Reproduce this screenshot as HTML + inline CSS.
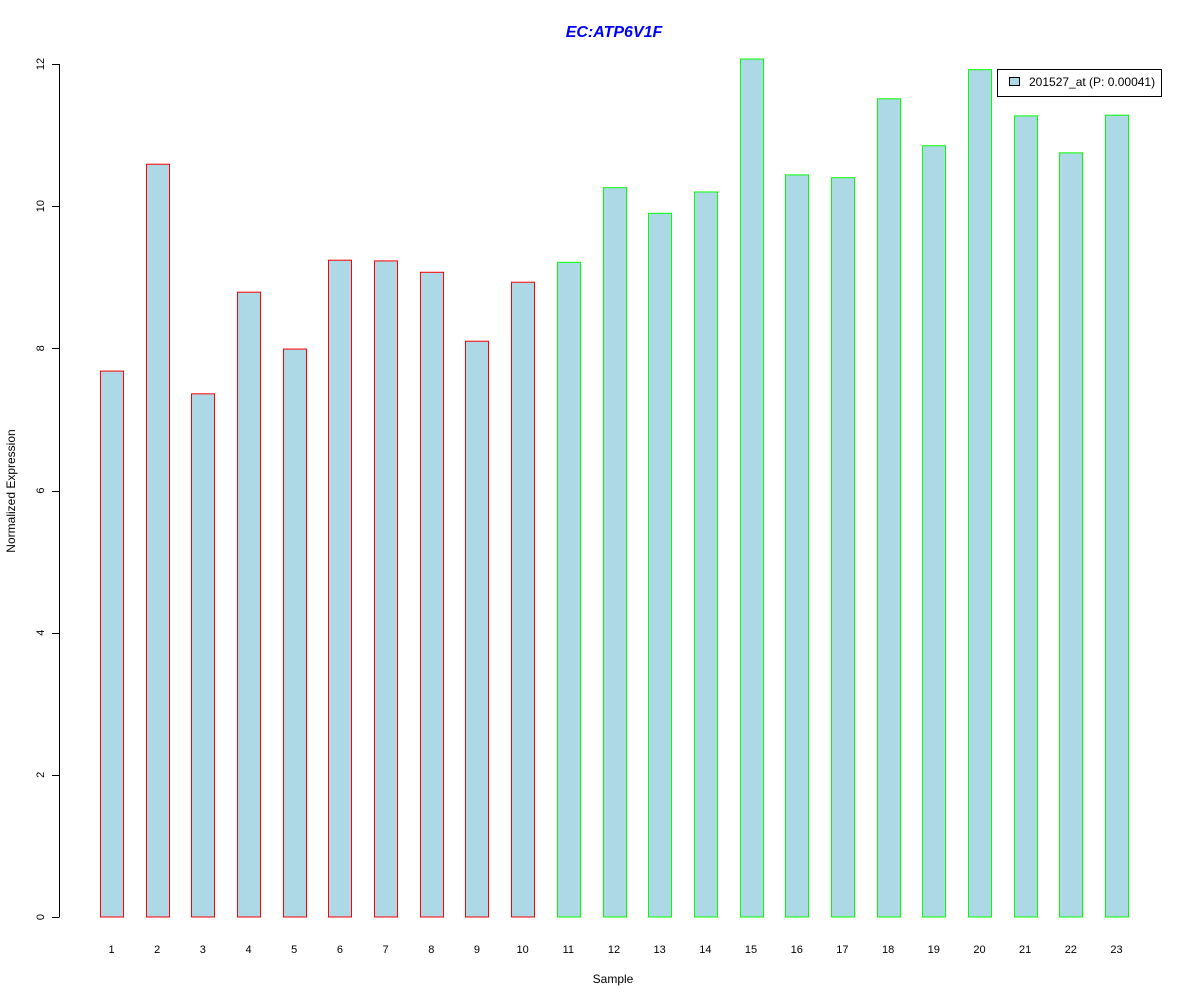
<!DOCTYPE html>
<html><head><meta charset="utf-8"><style>body{margin:0;background:#fff}svg{display:block;font-family:"Liberation Sans",Arial,sans-serif}</style></head>
<body>
<svg id="chart" width="1200" height="1000">
<text x="614" y="37" text-anchor="middle" font-size="16" font-weight="bold" font-style="italic" fill="#0000ff">EC:ATP6V1F</text>
<text transform="translate(15,491) rotate(-90)" text-anchor="middle" font-size="12">Normalized Expression</text>
<text x="613" y="983" text-anchor="middle" font-size="12">Sample</text>
<g id="yaxis"></g>
<g id="bars"></g>
<g id="xlabels"></g>
<g>
<rect x="997.5" y="69.5" width="164" height="27" fill="#fff" stroke="#000"/>
<rect x="1009.5" y="77.5" width="10" height="8" fill="#add8e6" stroke="#000"/>
<text x="1029" y="86" font-size="12">201527_at (P: 0.00041)</text>
</g>
</svg>
<script>
const categories = ["1","2","3","4","5","6","7","8","9","10","11","12","13","14","15","16","17","18","19","20","21","22","23"];
const values = [7.68,10.59,7.36,8.79,7.99,9.24,9.23,9.07,8.10,8.93,9.21,10.26,9.90,10.20,12.07,10.44,10.40,11.51,10.85,11.92,11.27,10.75,11.28];
const groups = ["a","a","a","a","a","a","a","a","a","a","b","b","b","b","b","b","b","b","b","b","b","b","b"];
const yTicks = [0,2,4,6,8,10,12];
const NS="http://www.w3.org/2000/svg";
const y = v => 917 - v*(917-64)/12;
const x = i => 111.5 + i*(1116.5-111.5)/22;
const ya=document.getElementById('yaxis');
let l=document.createElementNS(NS,'line');
l.setAttribute('x1',59.5);l.setAttribute('x2',59.5);l.setAttribute('y1',y(0));l.setAttribute('y2',y(12));l.setAttribute('stroke','#000');


ya.appendChild(l);
yTicks.forEach(t=>{
 const tk=document.createElementNS(NS,'line');
 tk.setAttribute('x1',52);tk.setAttribute('x2',59.5);tk.setAttribute('y1',Math.round(y(t))+0.5);tk.setAttribute('y2',Math.round(y(t))+0.5);tk.setAttribute('stroke','#000');
 
 
 ya.appendChild(tk);
 const tx=document.createElementNS(NS,'text');
 tx.setAttribute('transform',`translate(44,${y(t)}) rotate(-90)`);tx.setAttribute('text-anchor','middle');tx.setAttribute('font-size','11');
 tx.textContent=t;
 
 
 ya.appendChild(tx);
});
const bg=document.getElementById('bars'), xl=document.getElementById('xlabels');
values.forEach((v,i)=>{
 const r=document.createElementNS(NS,'rect');
 const cx=x(i);
 r.setAttribute('x',Math.round(cx-11.5)+0.5);r.setAttribute('width',23);
 r.setAttribute('y',y(v));r.setAttribute('height',y(0)-y(v));
 r.setAttribute('fill','#add8e6');r.setAttribute('stroke',groups[i]==='a'?'#ff0000':'#00ff00');
 
 
 bg.appendChild(r);
 const t=document.createElementNS(NS,'text');
 t.setAttribute('x',cx);t.setAttribute('y',953);t.setAttribute('text-anchor','middle');t.setAttribute('font-size','11');
 t.textContent=categories[i];
 
 
 xl.appendChild(t);
});
</script>
</body></html>
